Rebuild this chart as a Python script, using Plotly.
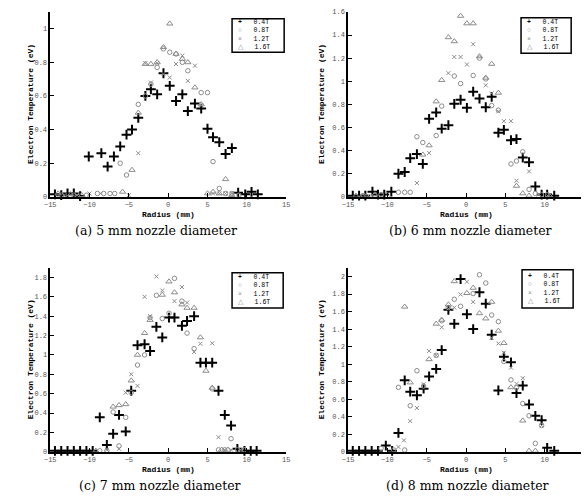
import plotly.graph_objects as go

# ---------------- data ----------------
fields = ["0.4T", "0.8T", "1.2T", "1.6T"]
captions = ["(a) 5 mm nozzle diameter", "(b) 6 mm nozzle diameter",
            "(c) 7 mm nozzle diameter", "(d) 8 mm nozzle diameter"]
x_ticks = [-15, -10, -5, 0, 5, 10, 15]

# (a) 5 mm
a04_x = [-14.4,-13.6,-12.8,-12.0,-11.2,-10.1,-8.5,-7.7,-6.9,-6.1,-5.3,-4.6,-3.8,-2.9,-2.2,-1.4,-0.6,0.2,1.0,1.8,2.5,3.4,4.2,5.0,5.7,6.5,7.3,8.1,8.9,9.8,10.6,11.4]
a04_y = [0.015,0.01,0.02,0.02,0.005,0.24,0.26,0.18,0.24,0.30,0.37,0.40,0.47,0.60,0.64,0.61,0.735,0.66,0.57,0.61,0.51,0.555,0.525,0.405,0.355,0.325,0.255,0.29,0.025,0.015,0.03,0.015]
a08_x = [-13.6,-12.0,-10.4,-9.0,-8.2,-7.4,-6.8,-6.1,-5.3,-3.8,-2.9,-2.2,-1.4,-0.6,0.2,1.0,1.8,2.5,4.2,5.0,5.7,6.5,7.3,8.1,9.0]
a08_y = [0.01,0.01,0.01,0.02,0.02,0.02,0.02,0.2,0.13,0.55,0.6,0.67,0.77,0.88,0.86,0.85,0.80,0.75,0.62,0.62,0.21,0.05,0.02,0.02,0.01]
a12_x = [-13.2,-11.6,-10.0,-8.6,-5.0,-3.8,-2.9,-2.2,-1.4,-0.6,0.2,1.0,1.8,2.5,3.4,4.2,5.7,6.5,7.3,8.1]
a12_y = [0.01,0.01,0.02,0.02,0.01,0.26,0.795,0.68,0.795,0.73,0.71,0.79,0.84,0.69,0.78,0.545,0.02,0.02,0.02,0.02]
a16_x = [-14.0,-12.4,-11.0,-5.8,-4.6,-3.8,-2.9,-2.2,-1.4,-0.6,0.2,1.0,1.8,2.5,3.4,4.2,5.0,5.7,6.5,7.3,8.1]
a16_y = [0.02,0.015,0.01,0.03,0.16,0.5,0.79,0.79,0.8,0.89,1.03,0.85,0.82,0.8,0.65,0.55,0.02,0.03,0.02,0.105,0.01]

# (b) 6 mm
b04_x = [-14.4,-13.6,-12.8,-11.9,-11.2,-10.4,-9.5,-8.6,-7.8,-7.1,-6.25,-5.5,-4.7,-3.8,-3.1,-2.25,-1.5,-0.7,0.1,0.9,1.7,2.5,3.25,4.1,4.8,5.7,6.4,7.2,8.0,8.8,9.6,10.3,11.2]
b04_y = [0.01,0.01,0.01,0.045,0.02,0.02,0.045,0.2,0.215,0.335,0.37,0.285,0.675,0.73,0.59,0.62,0.805,0.84,0.77,0.91,0.85,0.775,0.865,0.555,0.58,0.49,0.5,0.34,0.3,0.09,0.02,0.02,0.01]
b08_x = [-13.0,-10.8,-8.6,-7.8,-7.1,-6.25,-5.5,-3.8,-3.1,-1.5,-0.7,0.9,1.7,2.5,3.25,4.1,5.7,6.4,7.2,8.0,8.8,9.6,10.3]
b08_y = [0.01,0.02,0.04,0.04,0.04,0.52,0.47,0.53,0.785,1.045,0.98,1.05,1.2,1.02,0.79,0.75,0.285,0.31,0.39,0.065,0.03,0.02,0.02]
b12_x = [-12.4,-10.0,-6.25,-4.7,-2.25,-1.5,-0.7,0.1,0.9,2.5,3.25,4.1,4.8,5.7,6.4,8.0,9.2,10.0]
b12_y = [0.01,0.02,0.12,0.38,1.07,1.21,1.21,1.145,1.32,0.965,0.895,0.74,0.655,0.655,0.14,0.22,0.02,0.01]
b16_x = [-14.0,-13.2,-11.6,-5.5,-4.7,-3.8,-3.1,-2.25,-1.5,-0.7,0.1,0.9,1.7,2.5,3.25,4.1,6.4,7.2,8.0,10.6]
b16_y = [0.01,0.01,0.02,0.365,0.445,0.825,1.01,1.38,1.345,1.565,1.5,1.5,1.215,1.03,1.15,0.9,0.095,0.03,0.01,0.01]

# (c) 7 mm
c04_x = [-14.4,-13.6,-12.8,-12.0,-11.2,-10.4,-9.6,-8.7,-7.8,-7.0,-6.25,-5.4,-4.7,-3.9,-3.0,-2.3,-1.5,-0.75,0.1,0.8,1.75,2.4,3.3,4.1,4.8,5.6,6.4,7.2,8.0,8.8,9.7,10.5,11.25]
c04_y = [0.01,0.01,0.01,0.01,0.01,0.01,0.01,0.355,0.07,0.185,0.38,0.21,0.63,1.1,1.11,1.04,1.29,1.18,1.385,1.385,1.3,1.35,1.4,0.92,0.92,0.92,0.63,0.38,0.27,0.03,0.01,0.01,0.01]
c08_x = [-8.7,-7.8,-7.0,-6.25,-5.4,-4.7,-3.9,-3.0,-2.3,-1.5,-0.75,0.1,0.8,1.75,2.4,3.3,5.6,6.4,7.2,8.0,8.8,9.7]
c08_y = [0.01,0.01,0.41,0.06,0.355,0.61,0.895,1.0,1.385,1.615,1.375,1.43,1.79,1.555,1.225,1.065,0.65,0.02,0.02,0.135,0.02,0.02]
c12_x = [-7.8,-6.25,-5.4,-4.7,-3.9,-3.0,-2.3,-1.5,-0.75,0.8,1.75,2.4,3.3,4.1,5.6,6.4,7.2,8.0,9.2]
c12_y = [0.02,0.03,0.61,0.8,0.68,1.6,1.4,1.81,1.665,1.555,1.7,1.54,1.03,1.115,1.12,0.15,0.02,0.02,0.02]
c16_x = [-9.2,-7.0,-6.25,-5.4,-4.7,-3.9,-3.0,-2.3,-0.75,0.1,0.8,1.75,2.4,3.3,4.1,4.8,5.6,6.8,7.6]
c16_y = [0.01,0.465,0.48,0.49,0.735,1.0,1.225,1.36,1.62,1.757,1.645,1.52,1.485,1.485,1.18,0.835,0.66,0.02,0.02]

# (d) 8 mm
d04_x = [-14.4,-13.6,-12.8,-12.0,-11.2,-10.2,-9.4,-8.6,-7.8,-7.1,-6.25,-5.4,-4.7,-3.8,-3.1,-2.25,-1.5,-0.7,0.1,0.9,1.7,2.5,3.25,4.1,4.8,5.7,6.4,7.2,8.0,8.8,9.6,10.3,11.2]
d04_y = [0.01,0.01,0.01,0.01,0.01,0.07,0.01,0.215,0.815,0.685,0.645,0.72,0.86,0.945,1.16,1.62,1.46,1.97,1.57,1.4,1.82,1.69,1.335,0.7,1.085,1.02,0.67,0.755,0.54,0.41,0.36,0.045,0.01]
d08_x = [-10.8,-9.2,-8.6,-7.8,-7.1,-6.25,-5.4,-3.8,-3.1,-2.25,-1.5,-0.7,0.9,1.7,2.5,3.25,4.1,4.8,5.7,6.4,7.2,8.0,8.8,9.6]
d08_y = [0.04,0.02,0.735,0.02,0.525,0.925,0.75,1.1,1.495,1.645,1.74,1.66,1.805,2.02,1.925,1.56,1.485,1.03,0.82,0.73,0.55,0.41,0.095,0.3]
d12_x = [-8.6,-7.9,-7.1,-6.25,-5.4,-4.7,-3.8,-3.1,-2.25,-1.5,-0.7,0.1,0.9,3.25,4.1,4.8,5.7,6.4,7.2,9.6]
d12_y = [0.055,0.13,0.35,0.5,0.77,1.15,1.1,1.42,1.635,1.645,1.795,1.94,1.71,1.3,1.235,1.13,0.96,0.775,0.84,0.3]
d16_x = [-7.8,-7.1,-4.7,-3.8,-3.1,-2.25,-1.5,0.1,0.9,1.7,2.5,3.25,4.1,4.8,5.7,7.2,8.0,8.8]
d16_y = [1.655,0.79,1.055,1.46,1.505,1.68,1.945,1.81,1.87,1.58,1.52,1.71,1.38,1.24,0.735,0.355,0.01,0.01]

panels = [
    [(a04_x, a04_y), (a08_x, a08_y), (a12_x, a12_y), (a16_x, a16_y)],
    [(b04_x, b04_y), (b08_x, b08_y), (b12_x, b12_y), (b16_x, b16_y)],
    [(c04_x, c04_y), (c08_x, c08_y), (c12_x, c12_y), (c16_x, c16_y)],
    [(d04_x, d04_y), (d08_x, d08_y), (d12_x, d12_y), (d16_x, d16_y)],
]
y_ranges = [[0, 1.1], [0, 1.6], [0, 1.9], [0, 2.1]]
y_ticks = [[0, 0.2, 0.4, 0.6, 0.8, 1],
           [0, 0.2, 0.4, 0.6, 0.8, 1, 1.2, 1.4, 1.6],
           [0, 0.2, 0.4, 0.6, 0.8, 1, 1.2, 1.4, 1.6, 1.8],
           [0, 0.2, 0.4, 0.6, 0.8, 1, 1.2, 1.4, 1.6, 1.8, 2]]

# ---------------- layout geometry (pixels) ----------------
W, H = 585, 502
GRAY = "#8c8c8c"
MONO = "Liberation Mono"
SERIF = "DejaVu Serif"

def px_x(p):
    return p / W

def px_y(p):
    return 1 - p / H

# left, right, top, bottom
boxes = [(45, 285, 8, 196), (348, 585, 8, 196), (45, 285, 268, 455), (348, 585, 268, 455)]
x_ranges = [[-15, 15], [-15, 14.6], [-15, 15], [-15, 14.6]]
ytitle_x = [25, 321, 25, 321]
# legend box: left, top, right, bottom
legend_box = [(230, 15, 283, 49), (524, 14, 575, 50), (230, 273, 282, 309), (525, 270, 577, 309)]
caption_pos = [(153, 230), (473, 230), (157, 489), (470, 489)]

styles = [
    dict(symbol="cross-thin-open", size=7, color="black", line=dict(width=2, color="black")),
    dict(symbol="circle-open", size=4.5, color=GRAY, line=dict(width=1, color=GRAY)),
    dict(symbol="x-thin-open", size=4, color=GRAY, line=dict(width=1, color=GRAY)),
    dict(symbol="triangle-up-open", size=5.5, color=GRAY, line=dict(width=1, color=GRAY)),
]

fig = go.Figure()
annotations = []
shapes = []
layout_axes = {}

for i, series in enumerate(panels):
    sfx = "" if i == 0 else str(i + 1)
    for j, (xs, ys) in enumerate(series):
        fig.add_trace(go.Scatter(
            x=xs, y=ys, mode="markers", name=fields[j], showlegend=False,
            marker=styles[j], xaxis="x" + sfx, yaxis="y" + sfx,
            cliponaxis=False))
    l, r, t, b = boxes[i]
    common = dict(showline=True, linecolor="black", linewidth=1.5,
                  ticks="inside", ticklen=4, tickwidth=1, tickcolor="black",
                  showgrid=False, zeroline=False,
                  tickfont=dict(family=MONO, size=7, color="#555555"))
    layout_axes["xaxis" + sfx] = dict(common, domain=[px_x(l), px_x(r)], range=x_ranges[i],
                                      tickvals=x_ticks, anchor="y" + sfx)
    layout_axes["yaxis" + sfx] = dict(common, domain=[px_y(b), px_y(t)], range=y_ranges[i],
                                      tickvals=y_ticks[i], anchor="x" + sfx)
    # axis titles
    annotations.append(dict(text="<b>Radius (mm)</b>", xref="paper", yref="paper",
                            x=px_x(l + 120), y=px_y(b + 18), xanchor="center", yanchor="middle",
                            showarrow=False, font=dict(family=MONO, size=8, color="black")))
    annotations.append(dict(text="<b>Electron Temperature (eV)</b>", xref="paper", yref="paper",
                            x=px_x(ytitle_x[i]), y=px_y((t + b) / 2), xanchor="center",
                            yanchor="middle", textangle=-90, showarrow=False,
                            font=dict(family=MONO, size=8, color="black")))
    # caption
    cx, cy = caption_pos[i]
    annotations.append(dict(text=captions[i], xref="paper", yref="paper",
                            x=px_x(cx), y=px_y(cy), xanchor="center", yanchor="middle",
                            showarrow=False, font=dict(family=SERIF, size=12.5, color="black")))
    # legend box
    bl, bt, br, bb = legend_box[i]
    shapes.append(dict(type="rect", xref="paper", yref="paper",
                       x0=px_x(bl), x1=px_x(br), y0=px_y(bb), y1=px_y(bt),
                       line=dict(color="black", width=1.5), fillcolor="white", layer="above"))
    glyphs = ["<b>+</b>", "○", "×", "△"]
    gcol = ["black", GRAY, GRAY, GRAY]
    lines = []
    for k in range(4):
        lines.append("\u00a0<span style='color:%s'>%s</span>\u00a0\u00a0\u00a0%s"
                     % (gcol[k], glyphs[k], fields[k]))
    annotations.append(dict(text="<br>".join(lines), xref="paper", yref="paper",
                            x=px_x(bl + 2), y=px_y((bt + bb) / 2), xanchor="left", yanchor="middle",
                            align="left", showarrow=False, borderwidth=0, borderpad=0,
                            font=dict(family=MONO, size=6.5, color="black")))

fig.update_layout(width=W, height=H, margin=dict(l=0, r=0, t=0, b=0),
                  paper_bgcolor="white", plot_bgcolor="white",
                  annotations=annotations, shapes=shapes, **layout_axes)

fig.write_html("out.html")
